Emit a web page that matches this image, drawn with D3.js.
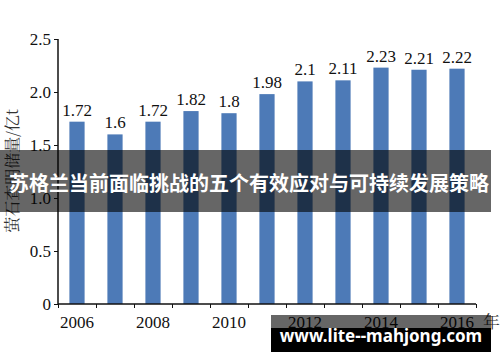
<!DOCTYPE html>
<html>
<head>
<meta charset="utf-8">
<style>
  body { margin: 0; background: #fff; }
  svg { display: block; }
</style>
</head>
<body>
<script src="https://d3js.org/d3.v7.min.js"></script>
<div id="chart"></div>
<script>
// data
const years = [2006, 2007, 2008, 2009, 2010, 2011, 2012, 2013, 2014, 2015, 2016];
const reserves = [1.72, 1.6, 1.72, 1.82, 1.8, 1.98, 2.1, 2.11, 2.23, 2.21, 2.22];
const yTicks = [0, 0.5, 1.0, 1.5, 2.0, 2.5];
const xTickLabels = [2006, 2008, 2010, 2012, 2014, 2016];
const yTitle = "萤石查明储量/亿t";
const xTitle = "年";
const bannerText = "苏格兰当前面临挑战的五个有效应对与可持续发展策略";
const siteText = "www.lite--mahjong.com";

const W = 500, H = 362;
const mLeft = 58, mRight = 476, mTop = 39, mBottom = 304;
const serif = "'Liberation Serif', 'Times New Roman', serif";

const svg = d3.select("#chart").append("svg")
  .attr("width", W).attr("height", H);

const x = d3.scaleBand().domain(years).range([mLeft, mRight]).paddingInner(0.6).paddingOuter(0.3);
const xb = d3.scaleBand().domain(years).range([mLeft, mRight]); // for boundary ticks
const y = d3.scaleLinear().domain([0, 2.5]).range([mBottom, mTop]);

// bars
svg.selectAll(".bar")
  .data(years)
  .join("rect")
  .attr("class", "bar")
  .attr("x", d => x(d))
  .attr("width", x.bandwidth())
  .attr("y", (d, i) => y(reserves[i]))
  .attr("height", (d, i) => y(0) - y(reserves[i]))
  .attr("fill", "#4d7ab7");

// value labels
svg.selectAll(".val")
  .data(years)
  .join("text")
  .attr("class", "val")
  .attr("x", d => x(d) + x.bandwidth() / 2)
  .attr("y", (d, i) => y(reserves[i]) - 6)
  .attr("text-anchor", "middle")
  .attr("font-family", serif)
  .attr("font-size", 17)
  .attr("fill", "#111")
  .text((d, i) => reserves[i]);

// y axis
const yAxis = svg.append("g")
  .attr("transform", `translate(${mLeft},0)`)
  .call(d3.axisLeft(y).tickValues(yTicks).tickSize(4).tickPadding(3)
    .tickFormat(d => d === 0 ? "0" : d3.format(".1f")(d)));
yAxis.select(".domain").attr("d", `M0,${mTop}V${mBottom}`).attr("stroke", "#111").attr("stroke-width", 1.5);
yAxis.selectAll("line").attr("stroke", "#111");
yAxis.selectAll("text").attr("font-family", serif).attr("font-size", 17).attr("fill", "#111");

// x axis: ticks at band boundaries, labels every other year
const bounds = years.map(d => xb(d)).concat([mRight]);
const xAxis = svg.append("g")
  .attr("transform", `translate(0,${mBottom})`)
  .call(d3.axisBottom(d3.scaleLinear().domain([mLeft, mRight]).range([mLeft, mRight]))
    .tickValues(bounds).tickSize(4).tickFormat(""));
xAxis.select(".domain").attr("d", `M${mLeft},0H${mRight}`).attr("stroke", "#111").attr("stroke-width", 1.5);
xAxis.selectAll("line").attr("stroke", "#111");

svg.selectAll(".xlab")
  .data(xTickLabels)
  .join("text")
  .attr("class", "xlab")
  .attr("x", d => x(d) + x.bandwidth() / 2)
  .attr("y", mBottom + 24)
  .attr("text-anchor", "middle")
  .attr("font-family", serif)
  .attr("font-size", 17)
  .attr("fill", "#111")
  .text(d => d);

svg.append("text")
  .attr("x", 483).attr("y", mBottom + 24)
  .attr("font-family", "'Noto Serif CJK SC', 'Noto Sans CJK SC', serif")
  .attr("font-size", 17)
  .attr("fill", "#333")
  .text(xTitle);

// y title
svg.append("text")
  .attr("transform", `translate(18,171) rotate(-90)`)
  .attr("text-anchor", "middle")
  .attr("font-family", "'Noto Serif CJK SC', 'Noto Sans CJK SC', serif")
  .attr("font-size", 16)
  .attr("fill", "#333")
  .text(yTitle);

// overlay banner
svg.append("rect")
  .attr("x", 0).attr("y", 150).attr("width", 491).attr("height", 62)
  .attr("fill", "#000").attr("fill-opacity", 0.6);
svg.append("text")
  .attr("x", 249).attr("y", 191)
  .attr("text-anchor", "middle")
  .attr("font-family", "'Noto Sans CJK SC', sans-serif")
  .attr("font-weight", "bold")
  .attr("font-size", 20)
  .attr("fill", "#fff")
  .text(bannerText);

// watermark
svg.append("rect")
  .attr("x", 271).attr("y", 315).attr("width", 220).attr("height", 13)
  .attr("fill", "#000").attr("fill-opacity", 0.6);
svg.append("rect")
  .attr("x", 271).attr("y", 328).attr("width", 220).attr("height", 24)
  .attr("fill", "#000");
svg.append("text")
  .attr("x", 381).attr("y", 342)
  .attr("text-anchor", "middle")
  .attr("font-family", "'Noto Sans', sans-serif")
  .attr("font-weight", "bold")
  .attr("font-size", 17)
  .attr("fill", "#fff")
  .text(siteText);
</script>
</body>
</html>
